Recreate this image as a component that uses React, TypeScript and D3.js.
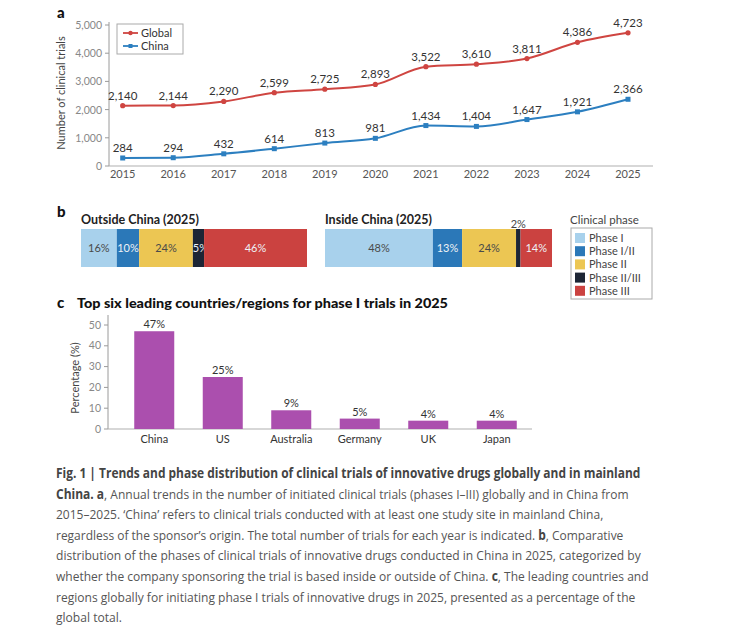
import React, { useLayoutEffect, useRef, useState } from "react";
import * as d3 from "d3";

// panel a data
const years = [2015, 2016, 2017, 2018, 2019, 2020, 2021, 2022, 2023, 2024, 2025];
const globalTrials = [2140, 2144, 2290, 2599, 2725, 2893, 3522, 3610, 3811, 4386, 4723];
const chinaTrials = [284, 294, 432, 614, 813, 981, 1434, 1404, 1647, 1921, 2366];
const yTicksA = [0, 1000, 2000, 3000, 4000, 5000];

// panel b data
const phases = ["Phase I", "Phase I/II", "Phase II", "Phase II/III", "Phase III"];
const phaseColors = ["#a8d1ec", "#2b78b8", "#ecc653", "#1c2535", "#cb4240"];
const outsideShares = [16, 10, 24, 5, 46];
const insideShares = [48, 13, 24, 2, 14];

// panel c data
const countries = ["China", "US", "Australia", "Germany", "UK", "Japan"];
const phaseIShares = [47, 25, 9, 5, 4, 4];
const yTicksC = [0, 10, 20, 30, 40, 50];

// caption: [text, bold] parts per line, with the x where the line ends
const captionLines = [
  { parts: [["Fig. 1 | Trends and phase distribution of clinical trials of innovative drugs globally and in mainland", true]], end: 641 },
  { parts: [["China. a", true], [", Annual trends in the number of initiated clinical trials (phases I\u2013III) globally and in China from", false]], end: 629 },
  { parts: [["2015\u20132025. \u2018China\u2019 refers to clinical trials conducted with at least one study site in mainland China,", false]], end: 604 },
  { parts: [["regardless of the sponsor\u2019s origin. The total number of trials for each year is indicated. ", false], ["b", true], [", Comparative", false]], end: 624 },
  { parts: [["distribution of the phases of clinical trials of innovative drugs conducted in China in 2025, categorized by", false]], end: 641 },
  { parts: [["whether the company sponsoring the trial is based inside or outside of China. ", false], ["c", true], [", The leading countries and", false]], end: 649 },
  { parts: [["regions globally for initiating phase I trials of innovative drugs in 2025, presented as a percentage of the", false]], end: 636 },
  { parts: [["global total.", false]], end: 122 },
];

const FONT = "Lato, 'Open Sans', sans-serif";
const CAP_FONT = "'Open Sans', sans-serif";
const RED = "#cf4541";
const BLUE = "#2c7fc0";
const PURPLE = "#ab4fae";
const fmt = d3.format(",");

function StackedBar({ x0, x1, y, h, title, shares, darkText }) {
  const total = d3.sum(shares);
  const x = d3.scaleLinear().domain([0, total]).range([x0, x1]);
  const starts = d3.cumsum([0, ...shares]);
  return (
    <g>
      <text x={x0} y={y - 5} fontSize={12.5} fontWeight={700} fill="#222" fontFamily={FONT}>{title}</text>
      {shares.map((s, i) => {
        const a = x(starts[i]);
        const b = x(starts[i] + s);
        const small = b - a < 8;
        return (
          <g key={i}>
            <rect x={a} y={y} width={b - a} height={h} fill={phaseColors[i]} />
            <text
              x={(a + b) / 2 + (b - a < 14 && !small ? 2 : 0)}
              y={small ? y - 1 : y + h / 2 + 4}
              textAnchor="middle"
              fontSize={11}
              fill={small ? "#444" : darkText[i] ? "#4a4a4a" : "#eef2f6"}
              fontFamily={FONT}
            >{s}%</text>
          </g>
        );
      })}
    </g>
  );
}

// one caption line, measured once and squeezed horizontally to the reference width
function CaptionLine({ parts, y, x0, end }) {
  const ref = useRef<SVGTextElement | null>(null);
  const [sx, setSx] = useState(1);
  useLayoutEffect(() => {
    if (ref.current) {
      const w = ref.current.getComputedTextLength();
      if (w > 0) setSx((end - x0) / w);
    }
  }, []);
  return (
    <g transform={`translate(${x0},${y}) scale(${sx},1)`}>
      <text ref={ref} x={0} y={0} fontSize={13.5} fill="#555" fontFamily={CAP_FONT}>
        {parts.map((p, j) => (
          <tspan key={j} fontWeight={p[1] ? 700 : 400} fill={p[1] ? "#444" : "#555"}>{p[0] as string}</tspan>
        ))}
      </text>
    </g>
  );
}

export default function App() {
  // panel a scales
  const xA = d3.scalePoint<number>().domain(years).range([122.7, 628]);
  const yA = d3.scaleLinear().domain([0, 5000]).range([166, 25]);
  const line = d3.line<number>()
    .x((d, i) => xA(years[i]) as number)
    .y((d) => yA(d))
    .curve(d3.curveMonotoneX);

  // panel c scales
  const xC = d3.scaleBand<string>().domain(countries).range([120, 531]).paddingInner(0.416).paddingOuter(0.208);
  const yC = d3.scaleLinear().domain([0, 50]).range([429, 325]);

  const darkText = [true, false, true, false, false];

  return (
    <svg width={729} height={629} style={{ position: "absolute", left: 0, top: 0, background: "#fff" }}>
      {/* ---------- panel a ---------- */}
      <text x={57} y={18} fontSize={15} fontWeight={900} fill="#111" fontFamily={FONT}>a</text>
      <line x1={109} x2={109} y1={22} y2={166} stroke="#9a9a9a" />
      <line x1={109} x2={653} y1={166} y2={166} stroke="#b0b0b0" strokeWidth={1.2} />
      {yTicksA.map((t) => (
        <g key={t}>
          <line x1={105} x2={109} y1={yA(t)} y2={yA(t)} stroke="#9a9a9a" />
          <text x={102} y={yA(t) + 4} textAnchor="end" fontSize={10.5} fill="#888" fontFamily={FONT}>{fmt(t)}</text>
        </g>
      ))}
      {years.map((yr) => (
        <text key={yr} x={xA(yr)} y={178} textAnchor="middle" fontSize={11} fill="#555" fontFamily={FONT}>{yr}</text>
      ))}
      <text transform={`translate(65,93) rotate(-90)`} textAnchor="middle" fontSize={11} fill="#444" fontFamily={FONT}>Number of clinical trials</text>

      <path d={line(globalTrials) || ""} fill="none" stroke={RED} strokeWidth={2} />
      <path d={line(chinaTrials) || ""} fill="none" stroke={BLUE} strokeWidth={2} />
      {globalTrials.map((v, i) => (
        <g key={"g" + i}>
          <circle cx={xA(years[i])} cy={yA(v)} r={2.6} fill={RED} />
          <text x={xA(years[i])} y={yA(v) - 6} textAnchor="middle" fontSize={11.5} fill="#333" fontFamily={FONT}>{fmt(v)}</text>
        </g>
      ))}
      {chinaTrials.map((v, i) => (
        <g key={"c" + i}>
          <rect x={(xA(years[i]) as number) - 2.5} y={yA(v) - 2.5} width={5} height={5} fill={BLUE} />
          <text x={xA(years[i])} y={yA(v) - 6} textAnchor="middle" fontSize={11.5} fill="#333" fontFamily={FONT}>{fmt(v)}</text>
        </g>
      ))}

      {/* legend a */}
      <rect x={117} y={24} width={66} height={30} fill="#fff" stroke="#aaa" />
      <line x1={123} x2={138} y1={33} y2={33} stroke={RED} strokeWidth={1.8} />
      <circle cx={130.5} cy={33} r={2.2} fill={RED} />
      <text x={141} y={37} fontSize={11} fill="#333" fontFamily={FONT}>Global</text>
      <line x1={123} x2={138} y1={46} y2={46} stroke={BLUE} strokeWidth={1.8} />
      <rect x={128.5} y={44} width={4} height={4} fill={BLUE} />
      <text x={141} y={50} fontSize={11} fill="#333" fontFamily={FONT}>China</text>

      {/* ---------- panel b ---------- */}
      <text x={57} y={217} fontSize={15} fontWeight={900} fill="#111" fontFamily={FONT}>b</text>
      <StackedBar x0={81} x1={307} y={229} h={38} title="Outside China (2025)" shares={outsideShares} darkText={darkText} />
      <StackedBar x0={325} x1={552} y={229} h={38} title="Inside China (2025)" shares={insideShares} darkText={darkText} />

      <text x={570} y={224} fontSize={11.5} fill="#444" fontFamily={FONT}>Clinical phase</text>
      <rect x={571} y={228} width={81} height={71} fill="#fff" stroke="#aaa" />
      {phases.map((p, i) => (
        <g key={p}>
          <rect x={575} y={233 + i * 13.2} width={10} height={10} fill={phaseColors[i]} />
          <text x={589} y={242 + i * 13.2} fontSize={11} fill="#444" fontFamily={FONT}>{p}</text>
        </g>
      ))}

      {/* ---------- panel c ---------- */}
      <text x={57} y={308} fontSize={15} fontWeight={900} fill="#111" fontFamily={FONT}>c</text>
      <text x={77} y={308} fontSize={13.5} fontWeight={900} fill="#111" fontFamily={FONT} textLength={371} lengthAdjust="spacingAndGlyphs">Top six leading countries/regions for phase I trials in 2025</text>
      <line x1={108} x2={108} y1={315} y2={429} stroke="#9a9a9a" />
      <line x1={108} x2={532} y1={429} y2={429} stroke="#b0b0b0" strokeWidth={1.2} />
      {yTicksC.map((t) => (
        <g key={t}>
          <line x1={104} x2={108} y1={yC(t)} y2={yC(t)} stroke="#9a9a9a" />
          <text x={101} y={yC(t) + 3.5} textAnchor="end" fontSize={10.5} fill="#888" fontFamily={FONT}>{t}</text>
        </g>
      ))}
      <text transform={`translate(79,378) rotate(-90)`} textAnchor="middle" fontSize={11} fill="#444" fontFamily={FONT}>Percentage (%)</text>
      {countries.map((c, i) => (
        <g key={c}>
          <rect x={xC(c)} y={yC(phaseIShares[i])} width={xC.bandwidth()} height={yC(0) - yC(phaseIShares[i])} fill={PURPLE} />
          <text x={(xC(c) as number) + xC.bandwidth() / 2} y={yC(phaseIShares[i]) - 3} textAnchor="middle" fontSize={11} fill="#333" fontFamily={FONT}>{phaseIShares[i]}%</text>
          <text x={(xC(c) as number) + xC.bandwidth() / 2} y={443} textAnchor="middle" fontSize={11} fill="#333" fontFamily={FONT}>{c}</text>
        </g>
      ))}

      {/* ---------- caption ---------- */}
      {captionLines.map((ln, i) => (
        <CaptionLine key={i} parts={ln.parts} y={478 + i * 20.6} x0={56} end={ln.end} />
      ))}
    </svg>
  );
}
